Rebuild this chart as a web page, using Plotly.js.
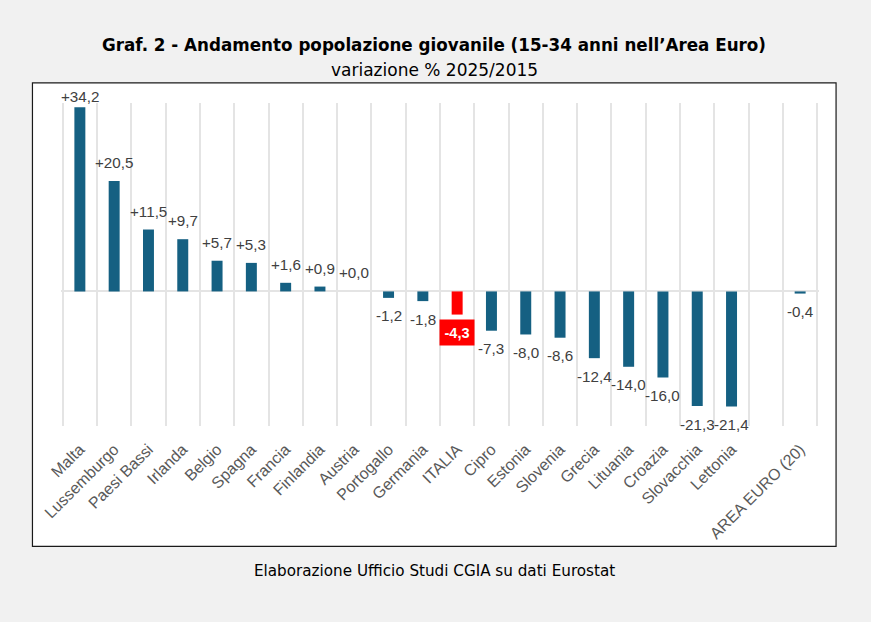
<!DOCTYPE html>
<html>
<head>
<meta charset="utf-8">
<script src="https://cdn.plot.ly/plotly-3.0.1.min.js"></script>
<style>html,body{margin:0;padding:0;background:#f1f1f1;}</style>
</head>
<body>
<div id="chart" style="width:871px;height:622px;"></div>
<script>
const categories = ["Malta","Lussemburgo","Paesi Bassi","Irlanda","Belgio","Spagna","Francia","Finlandia","Austria","Portogallo","Germania","ITALIA","Cipro","Estonia","Slovenia","Grecia","Lituania","Croazia","Slovacchia","Lettonia"," ","AREA EURO (20)"];
const values = [34.2,20.5,11.5,9.7,5.7,5.3,1.6,0.9,0.0,-1.2,-1.8,-4.3,-7.3,-8.0,-8.6,-12.4,-14.0,-16.0,-21.3,-21.4,null,-0.4];
const highlight = "ITALIA";
const barColor = "#156082";
const highlightColor = "#ff0000";
const labelColor = "#404040";
const tickColor = "#595959";
const gridColor = "#e4e4e4";

const fmt = v => (v >= 0 ? "+" : "") + v.toFixed(1).replace(".", ",");

const labels = [];
categories.forEach((c, i) => {
  const v = values[i];
  if (v === null) return;
  if (c === highlight) {
    labels.push({x: c, y: v, text: "<b>" + fmt(v) + "</b>", showarrow: false, yshift: -18,
      bgcolor: highlightColor, font: {family: "Liberation Sans", size: 14.5, color: "#ffffff"},
      width: 34, height: 25, xanchor: "center", yanchor: "middle", borderpad: 0});
  } else {
    const shift = v >= 30 ? 11 : (v >= 0 ? 18.5 : -18);
    labels.push({x: c, y: v, text: fmt(v), showarrow: false, yshift: shift,
      font: {family: "Liberation Sans", size: 15.2, color: labelColor},
      xanchor: "center", yanchor: "middle"});
  }
});

const L = 60.58, W = 758.84, T = 102.7, H = 323;
const px = x => (x - L) / W;
const py = y => 1 - (y - T) / H;
const text = (t, y, font) => ({xref: "paper", yref: "paper", x: px(434), y: py(y), text: t, showarrow: false,
  xanchor: "center", yanchor: "middle", font});

labels.push(text("variazione % 2025/2015", 70, {family: "DejaVu Sans", size: 17, color: "#000000"}));
labels.push(text("Elaborazione Ufficio Studi CGIA su dati Eurostat", 571, {family: "DejaVu Sans", size: 15.2, color: "#000000"}));

Plotly.newPlot("chart", [{
  type: "bar",
  x: categories,
  y: values,
  width: 0.32,
  marker: {color: categories.map(c => c === highlight ? highlightColor : barColor)},
  hoverinfo: "x+y",
  showlegend: false
}], {
  width: 871, height: 622,
  paper_bgcolor: "#f1f1f1",
  plot_bgcolor: "rgba(0,0,0,0)",
  margin: {l: L, r: 871 - L - W, t: T, b: 622 - T - H, pad: 0},
  title: {text: "<b>Graf. 2 - Andamento popolazione giovanile (15-34 anni nell’Area Euro)</b>",
    font: {family: "DejaVu Sans", size: 16.75, color: "#000000"},
    x: 434 / 871, xanchor: "center", y: 1 - 45 / 622, yanchor: "middle"},
  xaxis: {
    type: "category", categoryorder: "array", categoryarray: categories,
    range: [-0.55, 21.55], tickson: "boundaries",
    showgrid: true, gridcolor: gridColor, gridwidth: 2,
    showline: false, ticks: "", zeroline: false,
    tickangle: -45, tickfont: {family: "Liberation Sans", size: 16, color: tickColor},
    ticklabelstandoff: 10, automargin: false
  },
  yaxis: {
    range: [-25, 35], showgrid: false, showticklabels: false, ticks: "",
    zeroline: true, zerolinecolor: gridColor, zerolinewidth: 2, automargin: false
  },
  shapes: [{type: "rect", xref: "paper", yref: "paper", layer: "below",
    x0: px(32), x1: px(836.5), y0: py(546), y1: py(82.5),
    fillcolor: "#ffffff", line: {color: "#1a1a1a", width: 1.2}}],
  annotations: labels,
  bargap: 0.68
}, {displayModeBar: false, staticPlot: true});
</script>
</body>
</html>
